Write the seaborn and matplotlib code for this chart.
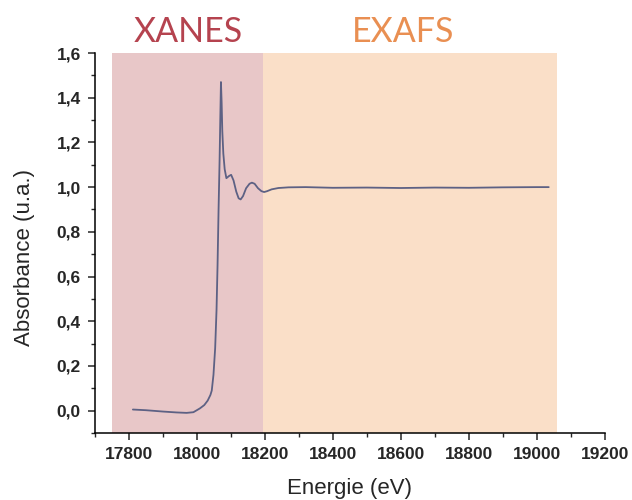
import matplotlib
matplotlib.use("Agg")
import matplotlib.pyplot as plt
import matplotlib.transforms as mtransforms
from matplotlib.ticker import MultipleLocator, FuncFormatter
import seaborn as sns
import pandas as pd

# ------------------------- Data -------------------------
energy = [17812, 17850, 17900, 17940, 17970, 17990, 18009, 18022, 18032, 18040,
          18044, 18049, 18054, 18058, 18061, 18064, 18067, 18069, 18071,
          18073, 18075, 18078, 18082, 18087, 18095, 18101,
          18108, 18116, 18123, 18129, 18136, 18145, 18155, 18162, 18170, 18180,
          18190, 18198, 18207, 18220, 18240, 18270, 18320, 18400, 18500, 18600,
          18700, 18800, 18900, 19000, 19035]
absorbance = [0.005, 0.002, -0.004, -0.008, -0.010, -0.007, 0.010, 0.025, 0.045, 0.070,
              0.090, 0.160, 0.280, 0.450, 0.650, 0.900, 1.120, 1.300, 1.470,
              1.380, 1.250, 1.150, 1.080, 1.040, 1.050, 1.055,
              1.030, 0.980, 0.950, 0.945, 0.960, 0.995, 1.015, 1.020, 1.015, 0.995,
              0.982, 0.978, 0.982, 0.990, 0.996, 0.999, 1.000, 0.997, 0.998, 0.996,
              0.998, 0.997, 0.999, 1.000, 1.000]

regions = ["XANES", "EXAFS"]
region_start = [17750, 18195]
region_end = [18195, 19060]
region_label_x = [17976, 18606]

df = pd.DataFrame({"Energie (eV)": energy, "Absorbance (u.a.)": absorbance})

# ------------------------- Style -------------------------
sns.set_style("ticks")
plt.rcParams["font.family"] = ["Liberation Sans", "DejaVu Sans"]

fig = plt.figure(figsize=(6.32, 5.0), dpi=100)
ax = fig.add_axes([0.150, 0.134, 0.807, 0.760])

shade_colors = ["#e8c7c8", "#fadfc8"]
text_colors = ["#b5434f", "#e98f52"]

trans = mtransforms.blended_transform_factory(ax.transData, ax.transAxes)
for name, x0, x1, xt, sc, tc in zip(regions, region_start, region_end,
                                     region_label_x, shade_colors, text_colors):
    ax.axvspan(x0, x1, color=sc, lw=0, zorder=0)
    ax.text(xt, 1.055, name, transform=trans, ha="center", va="center",
            fontsize=24.5, color=tc, family=["Lato", "DejaVu Sans"])

sns.lineplot(data=df, x="Energie (eV)", y="Absorbance (u.a.)", ax=ax,
             color="#5d6184", lw=1.3, zorder=3)

ax.set_xlim(17700, 19200)
ax.set_ylim(-0.1, 1.6)
ax.xaxis.set_major_locator(MultipleLocator(200))
ax.xaxis.set_minor_locator(MultipleLocator(100))
ax.yaxis.set_major_locator(MultipleLocator(0.2))
ax.yaxis.set_minor_locator(MultipleLocator(0.1))
ax.yaxis.set_major_formatter(FuncFormatter(lambda v, p: f"{v:.1f}".replace(".", ",")))

ax.tick_params(which="major", direction="out", length=5, width=1.1,
               labelsize=12.5, pad=5)
ax.tick_params(which="minor", direction="out", length=3, width=1.0)
for lab in ax.get_xticklabels() + ax.get_yticklabels():
    lab.set_fontweight("bold")

ax.set_xlabel("Energie (eV)", fontsize=16)
ax.set_ylabel("Absorbance (u.a.)", fontsize=16)
ax.xaxis.set_label_coords(0.5, -0.145)
ax.yaxis.set_label_coords(-0.137, 0.463)
ax.yaxis.label.set_va("center")
ax.xaxis.label.set_va("center")

sns.despine(ax=ax)
for s in ["left", "bottom"]:
    ax.spines[s].set_linewidth(1.1)
    ax.spines[s].set_color("black")

fig.savefig("out.png", dpi=100)
plt.close(fig)
